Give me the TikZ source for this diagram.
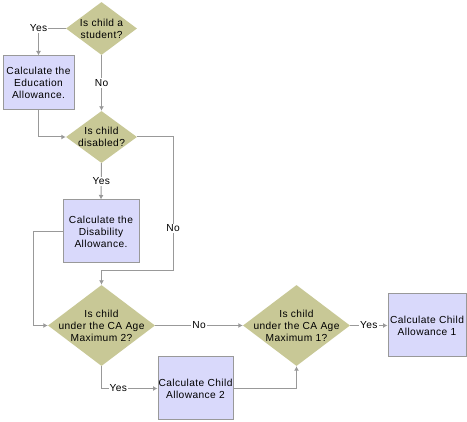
\documentclass[tikz,border=0pt]{standalone}
\usepackage{fontspec}
\setmainfont{Liberation Sans}
\newfontfamily\diafont[LetterSpace=4]{Liberation Sans}
\usetikzlibrary{shapes.geometric,arrows.meta,calc}
\definecolor{dia}{HTML}{C8C896}
\definecolor{boxc}{HTML}{D9D9FB}
\definecolor{ln}{HTML}{999999}
\tikzset{
  dshape/.style={diamond, draw=none, fill=dia, inner sep=0pt},
  txt/.style={align=center, font=\diafont\fontsize{10.2}{12}\selectfont, inner sep=0pt},
  pbox/.style={draw=ln, line width=1pt, fill=boxc, align=center, inner sep=0pt,
    font=\diafont\fontsize{10.2}{12}\selectfont},
  conn/.style={draw=ln, line width=1pt, -{Latex[length=4.5pt,width=5pt]}},
  lbl/.style={fill=white, inner sep=1pt, font=\diafont\fontsize{10.2}{12}\selectfont}
}
\begin{document}
\begin{tikzpicture}[x=1pt,y=-1pt]
\useasboundingbox (0,0) rectangle (467,422);
% diamonds
\node[dshape, minimum width=71pt, minimum height=53pt] (d1) at (101.5,28.5) {};
\node[txt] (t1) at (d1) {Is child a\\student?};
\node[dshape, minimum width=71pt, minimum height=52pt] (d2) at (101.5,137) {};
\node[txt] (t2) at (d2) {Is child\\disabled?};
\node[dshape, minimum width=107pt, minimum height=81pt] (d3) at (101.5,325.5) {};
\node[txt] (t3) at (d3) {Is child\\under the CA Age\\Maximum 2?};
\node[dshape, minimum width=107pt, minimum height=81pt] (d4) at (296.5,325.5) {};
\node[txt] (t4) at (d4) {Is child\\under the CA Age\\Maximum 1?};
% boxes
\node[pbox, minimum width=71pt, minimum height=54pt] (b1) at (38.5,83) {Calculate the\\Education\\Allowance.};
\node[pbox, minimum width=76pt, minimum height=63pt] (b2) at (101,231.5) {Calculate the\\Disability\\Allowance.};
\node[pbox, minimum width=75pt, minimum height=63pt] (b3) at (195.5,388.5) {Calculate Child\\Allowance 2};
\node[pbox, minimum width=78pt, minimum height=63pt] (b4) at (427,325.5) {Calculate Child\\Allowance 1};
% helper coordinates
\coordinate (n1) at (173,271);
\coordinate (n2) at (33,0);
% connectors
\draw[conn] (d1.west) -| node[lbl, pos=0.5] {Yes} (b1.north);
\draw[conn] (d1.south) -- node[lbl] {No} (d2.north);
\draw[conn] (b1.south) |- (d2.west);
\draw[conn] (d2.south) -- node[lbl] {Yes} (b2.north);
\draw[conn] (d2.east) -| node[lbl, pos=0.84] {No} (n1) -- (n1 -| d3.north) -- (d3.north);
\draw[conn] (b2.west) -- (b2.west -| n2) |- (d3.west);
\draw[conn] (d3.east) -- node[lbl] {No} (d4.west);
\draw[conn] (d4.east) -- node[lbl] {Yes} (b4.west);
\draw[conn] (d3.south) |- node[lbl, pos=0.65] {Yes} (b3.west);
\draw[conn] (b3.east) -| (d4.south);
\end{tikzpicture}
\end{document}
